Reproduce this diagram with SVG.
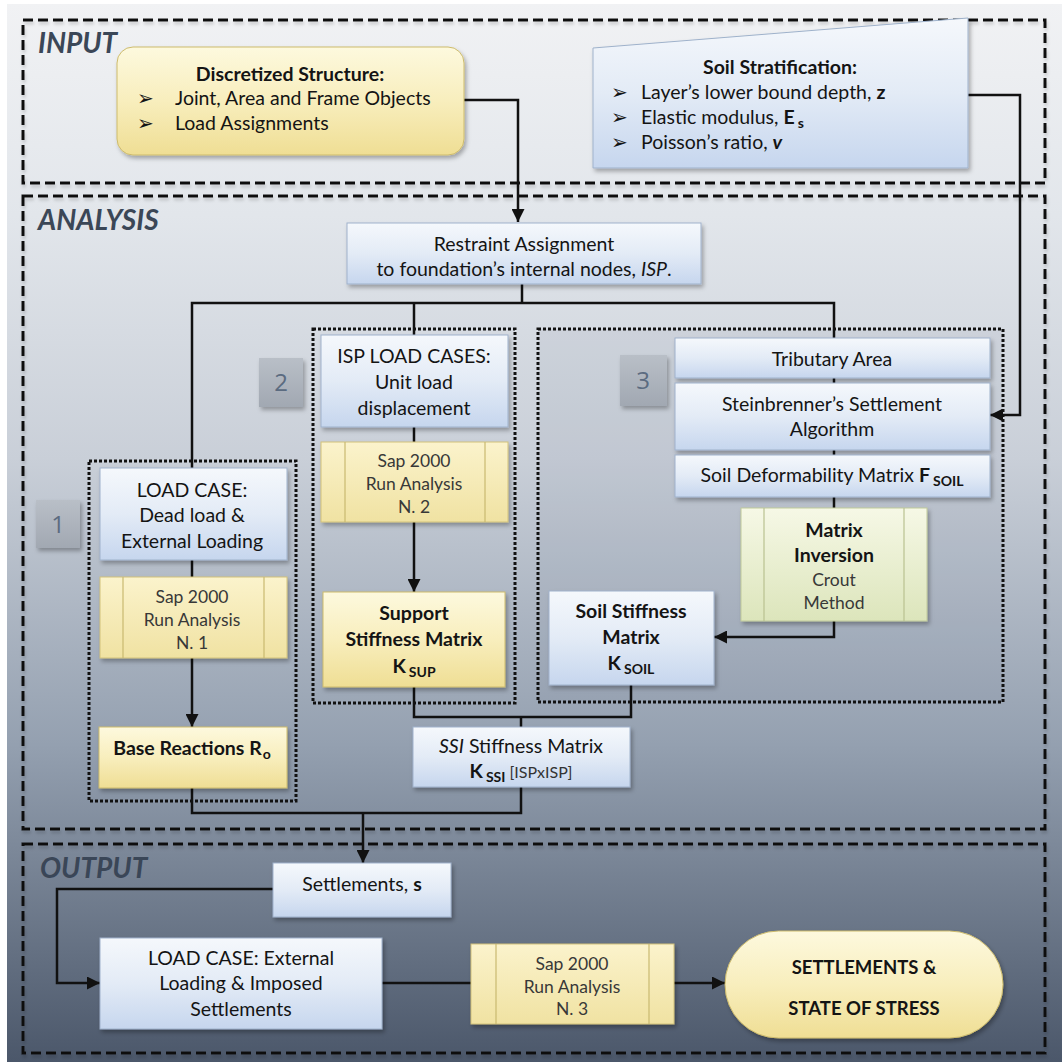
<svg xmlns="http://www.w3.org/2000/svg" width="1062" height="1062" viewBox="0 0 1062 1062">
<defs>
<linearGradient id="gBg" x1="0" y1="0" x2="0" y2="1">
<stop offset="0" stop-color="#f1f2f4"/>
<stop offset="0.2" stop-color="#e2e6eb"/>
<stop offset="0.43" stop-color="#c9cfd8"/>
<stop offset="0.7" stop-color="#94a0b0"/>
<stop offset="1" stop-color="#4b576a"/>
</linearGradient>
<linearGradient id="gBlue" x1="0" y1="0" x2="0" y2="1">
<stop offset="0" stop-color="#f5f8fc"/>
<stop offset="0.5" stop-color="#e3ebf6"/>
<stop offset="1" stop-color="#c6d6ee"/>
</linearGradient>
<linearGradient id="gYel" x1="0" y1="0" x2="0" y2="1">
<stop offset="0" stop-color="#fdf9de"/>
<stop offset="0.5" stop-color="#f8eebd"/>
<stop offset="1" stop-color="#efde94"/>
</linearGradient>
<linearGradient id="gSap" x1="0" y1="0" x2="0" y2="1">
<stop offset="0" stop-color="#fbf3cc"/>
<stop offset="1" stop-color="#f0e2a2"/>
</linearGradient>
<linearGradient id="gGreen" x1="0" y1="0" x2="0" y2="1">
<stop offset="0" stop-color="#f6f8e6"/>
<stop offset="1" stop-color="#dce5bb"/>
</linearGradient>
<linearGradient id="gBadge" x1="0" y1="0" x2="0" y2="1">
<stop offset="0" stop-color="#b9bfc7"/>
<stop offset="1" stop-color="#a1a8b2"/>
</linearGradient>
<filter id="sh" x="-10%" y="-10%" width="125%" height="130%">
<feDropShadow dx="2" dy="3" stdDeviation="2" flood-color="#000" flood-opacity="0.3"/>
</filter>
<filter id="shL" x="-5%" y="-5%" width="110%" height="115%">
<feDropShadow dx="1" dy="3" stdDeviation="1.5" flood-color="#000" flood-opacity="0.15"/>
</filter>
<marker id="arr" viewBox="0 0 10 10" refX="10" refY="5" markerWidth="13" markerHeight="13" markerUnits="userSpaceOnUse" orient="auto">
<path d="M0,0 L10,5 L0,10 z" fill="#111"/>
</marker>
<style>
.t{font-family:Lato,"Liberation Sans",sans-serif;font-size:19.5px;fill:#141414;text-anchor:middle}
.l{text-anchor:start}
.b{font-weight:bold}
.i{font-style:italic}
.sap{font-size:17.5px;fill:#383838}
.sub{font-size:14px;font-weight:bold}
.bul{font-family:"DejaVu Sans",sans-serif;font-size:20px;fill:#141414}
.lbl{font-family:Lato,"Liberation Sans",sans-serif;font-size:28px;font-weight:bold;font-style:italic;fill:#3b4757}
.blue{fill:url(#gBlue);stroke:#9fb2cb;stroke-width:1;filter:url(#sh)}
.yel{fill:url(#gYel);stroke:#cdbb6c;stroke-width:1;filter:url(#sh)}
.sapbox{fill:url(#gSap);stroke:#d2c27a;stroke-width:1;filter:url(#sh)}
.grn{fill:url(#gGreen);stroke:#c0c99a;stroke-width:1;filter:url(#sh)}
.inner{stroke:#c9b970;stroke-width:1.2;fill:none}
.dash{fill:none;stroke:#111;stroke-width:3;stroke-dasharray:10 5;filter:url(#shL)}
.dot{fill:none;stroke:#111;stroke-width:3;stroke-dasharray:3 2}
.badge{fill:url(#gBadge);filter:url(#sh)}
.num{font-family:"Open Sans","Liberation Sans",sans-serif;font-size:24px;fill:#5b6b80;text-anchor:middle}
.con{fill:none;stroke:#111;stroke-width:2.5}
</style>
</defs>

<rect x="0" y="0" width="1062" height="1062" fill="#ffffff"/>
<rect x="7" y="4" width="1055" height="1058" fill="url(#gBg)"/>

<g id="sections">
<rect class="dash" x="23" y="20" width="1022" height="163"/>
<rect class="dash" x="23" y="196" width="1022" height="633"/>
<rect class="dash" x="23" y="844" width="1022" height="209"/>
<text class="lbl" x="38" y="53">INPUT</text>
<text class="lbl" x="38" y="230">ANALYSIS</text>
<text class="lbl" x="40" y="878" style="fill:#3a4657">OUTPUT</text>
</g>

<g id="subgroups">
<rect x="538" y="329" width="465" height="373" fill="#6a7686" fill-opacity="0.08"/>
<rect class="dot" x="538" y="329" width="465" height="373"/>
<rect class="dot" x="313" y="329" width="202" height="374"/>
<rect class="dot" x="89" y="461" width="207" height="340"/>
</g>

<g id="badges">
<rect class="badge" x="36" y="500" width="44" height="48"/>
<text class="num" x="58" y="533">1</text>
<rect class="badge" x="259" y="358" width="44" height="49"/>
<text class="num" x="281" y="391">2</text>
<rect class="badge" x="620" y="355" width="47" height="51"/>
<text class="num" x="643" y="389">3</text>
</g>

<g id="connectors">
<path class="con" d="M464,100 H518 V222" marker-end="url(#arr)"/>
<path class="con" d="M968,95 H1020 V415 H990" marker-end="url(#arr)"/>
<path class="con" d="M522,284 V303"/>
<path class="con" d="M192,468 V303 H834 V338"/>
<path class="con" d="M414,303 V335"/>
<path class="con" d="M414,427 V442"/>
<path class="con" d="M414,522 V592" marker-end="url(#arr)"/>
<path class="con" d="M192,560 V577"/>
<path class="con" d="M192,658 V727" marker-end="url(#arr)"/>
<path class="con" d="M834,378 V383"/>
<path class="con" d="M834,450 V455"/>
<path class="con" d="M834,497 V508"/>
<path class="con" d="M834,621 V637 H714" marker-end="url(#arr)"/>
<path class="con" d="M414,687 V717 H631 V685"/>
<path class="con" d="M521,717 V727"/>
<path class="con" d="M192,788 V813 H521 V787"/>
<path class="con" d="M363,813 V863" marker-end="url(#arr)"/>
<path class="con" d="M273,889 H57 V983 H100" marker-end="url(#arr)"/>
<path class="con" d="M382,983 H471"/>
<path class="con" d="M674,983 H725" marker-end="url(#arr)"/>
</g>

<g id="discretized-structure">
<rect class="yel" x="117" y="47" width="347" height="108" rx="16"/>
<text class="t b" x="290" y="81">Discretized Structure:</text>
<text class="bul" x="137" y="105">➢</text>
<text class="t l" x="175" y="105">Joint, Area and Frame Objects</text>
<text class="bul" x="137" y="130">➢</text>
<text class="t l" x="175" y="130">Load Assignments</text>
</g>

<g id="soil-stratification">
<polygon class="blue" points="593,48 968,18 968,168 593,168"/>
<text class="t b" x="780" y="74">Soil Stratification:</text>
<text class="bul" x="611" y="99">➢</text>
<text class="t l" x="641" y="99">Layer’s lower bound depth, <tspan class="b">z</tspan></text>
<text class="bul" x="611" y="124">➢</text>
<text class="t l" x="641" y="124">Elastic modulus, <tspan class="b">E</tspan><tspan class="sub" dx="3" dy="4">s</tspan></text>
<text class="bul" x="611" y="149">➢</text>
<text class="t l" x="641" y="149">Poisson’s ratio, <tspan class="b i">v</tspan></text>
</g>

<g id="restraint-assignment">
<rect class="blue" x="347" y="223" width="354" height="61"/>
<text class="t" x="524" y="251">Restraint Assignment</text>
<text class="t" x="524" y="276">to foundation’s internal nodes, <tspan class="i">ISP</tspan>.</text>
</g>

<g id="isp-load-cases">
<rect class="blue" x="321" y="335" width="187" height="92"/>
<text class="t" x="414" y="363">ISP LOAD CASES:</text>
<text class="t" x="414" y="389">Unit load</text>
<text class="t" x="414" y="415">displacement</text>
</g>

<g id="sap-run-2">
<rect class="sapbox" x="321" y="442" width="187" height="80"/>
<line class="inner" x1="345" y1="442" x2="345" y2="522"/>
<line class="inner" x1="485" y1="442" x2="485" y2="522"/>
<text class="t sap" x="414" y="467">Sap 2000</text>
<text class="t sap" x="414" y="490">Run Analysis</text>
<text class="t sap" x="414" y="513">N. 2</text>
</g>

<g id="support-stiffness">
<rect class="yel" x="323" y="592" width="182" height="95"/>
<text class="t b" x="414" y="620">Support</text>
<text class="t b" x="414" y="646">Stiffness Matrix</text>
<text class="t b" x="414" y="673">K<tspan class="sub" dx="3" dy="4">SUP</tspan></text>
</g>

<g id="load-case-1">
<rect class="blue" x="100" y="468" width="187" height="92"/>
<text class="t" x="192" y="497">LOAD CASE:</text>
<text class="t" x="192" y="522">Dead load &amp;</text>
<text class="t" x="192" y="548">External Loading</text>
</g>

<g id="sap-run-1">
<rect class="sapbox" x="100" y="577" width="187" height="81"/>
<line class="inner" x1="123" y1="577" x2="123" y2="658"/>
<line class="inner" x1="264" y1="577" x2="264" y2="658"/>
<text class="t sap" x="192" y="603">Sap 2000</text>
<text class="t sap" x="192" y="626">Run Analysis</text>
<text class="t sap" x="192" y="649">N. 1</text>
</g>

<g id="base-reactions">
<rect class="yel" x="99" y="727" width="188" height="61"/>
<text class="t b" x="192" y="755">Base Reactions R<tspan class="sub" dx="1" dy="4">o</tspan></text>
</g>

<g id="tributary-area">
<rect class="blue" x="675" y="338" width="315" height="40"/>
<text class="t" x="832" y="366">Tributary Area</text>
</g>

<g id="steinbrenner">
<rect class="blue" x="675" y="383" width="315" height="67"/>
<text class="t" x="832" y="411">Steinbrenner’s Settlement</text>
<text class="t" x="832" y="436">Algorithm</text>
</g>

<g id="soil-deformability">
<rect class="blue" x="675" y="455" width="315" height="42"/>
<text class="t" x="832" y="482">Soil Deformability Matrix <tspan class="b">F</tspan><tspan class="sub" dx="3" dy="4">SOIL</tspan></text>
</g>

<g id="matrix-inversion">
<rect class="grn" x="741" y="508" width="186" height="113"/>
<line x1="764" y1="508" x2="764" y2="621" stroke="#b9c290" stroke-width="1.2"/>
<line x1="904" y1="508" x2="904" y2="621" stroke="#b9c290" stroke-width="1.2"/>
<text class="t b" x="834" y="537">Matrix</text>
<text class="t b" x="834" y="562">Inversion</text>
<text class="t sap" x="834" y="586">Crout</text>
<text class="t sap" x="834" y="609">Method</text>
</g>

<g id="soil-stiffness">
<rect class="blue" x="549" y="591" width="165" height="94"/>
<text class="t b" x="631" y="618">Soil Stiffness</text>
<text class="t b" x="631" y="644">Matrix</text>
<text class="t b" x="631" y="670">K<tspan class="sub" dx="3" dy="4">SOIL</tspan></text>
</g>

<g id="ssi-stiffness">
<rect class="blue" x="413" y="727" width="217" height="60"/>
<text class="t" x="521" y="753"><tspan class="i">SSI</tspan> Stiffness Matrix</text>
<text class="t" x="521" y="778"><tspan class="b">K</tspan><tspan class="sub" dx="3" dy="4">SSI</tspan><tspan dx="4" dy="-4" style="font-size:16px;fill:#333">[ISPxISP]</tspan></text>
</g>

<g id="settlements">
<rect class="blue" x="273" y="863" width="178" height="54"/>
<text class="t" x="362" y="891">Settlements, <tspan class="b">s</tspan></text>
</g>

<g id="load-case-external">
<rect class="blue" x="100" y="938" width="282" height="91"/>
<text class="t" x="241" y="965">LOAD CASE: External</text>
<text class="t" x="241" y="990">Loading &amp; Imposed</text>
<text class="t" x="241" y="1016">Settlements</text>
</g>

<g id="sap-run-3">
<rect class="sapbox" x="471" y="944" width="203" height="80"/>
<line class="inner" x1="496" y1="944" x2="496" y2="1024"/>
<line class="inner" x1="649" y1="944" x2="649" y2="1024"/>
<text class="t sap" x="572" y="970">Sap 2000</text>
<text class="t sap" x="572" y="993">Run Analysis</text>
<text class="t sap" x="572" y="1015">N. 3</text>
</g>

<g id="settlements-state-of-stress">
<rect class="yel" x="725" y="931" width="278" height="107" rx="53.5"/>
<text class="t b" x="864" y="974" style="font-size:18.5px">SETTLEMENTS &amp;</text>
<text class="t b" x="864" y="1015" style="font-size:18.5px">STATE OF STRESS</text>
</g>
</svg>
